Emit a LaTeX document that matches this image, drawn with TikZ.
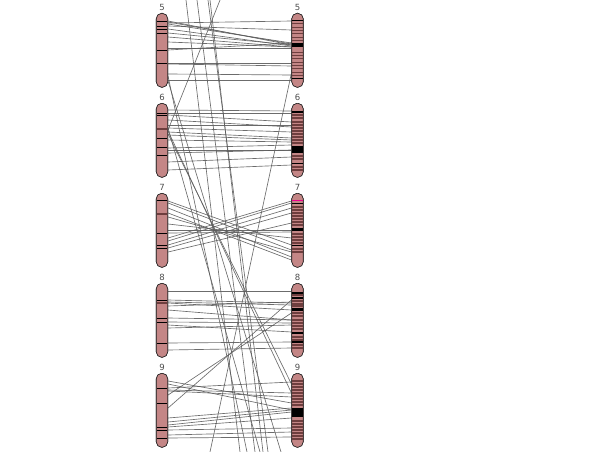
\documentclass[tikz,border=0pt]{standalone}
\usepackage{fontspec}
\setsansfont{DejaVu Sans}
\definecolor{chr}{RGB}{196,134,134}
\definecolor{band}{RGB}{110,62,62}
\definecolor{lnk}{RGB}{92,92,92}
\newcommand\bnd[4]{\fill[#4] (#1-5.4,#2) rectangle (#1+5.4,#2+#3);}
\newcommand\syn[3]{\draw[link] (L#1.east |- 0,#2) -- (R#1.west |- 0,#3);}
\begin{document}
\begin{tikzpicture}[x=1pt,y=-1pt,
  chrom/.style={draw=black!85, line width=0.6pt, fill=chr, rounded corners=5.5pt,
    minimum width=11.5pt, minimum height=74pt, inner sep=0pt, anchor=north},
  lab/.style={font=\sffamily\fontsize{8.5}{8.5}\selectfont, text=black!70},
  link/.style={draw=lnk, line width=0.65pt, opacity=0.9}]
\useasboundingbox (0,0) rectangle (600,452);
% chromosome nodes
\foreach \k/\t in {5/13,6/103,7/193,8/283,9/373}{
  \node[chrom] (L\k) at (162,\t) {};
  \node[chrom] (R\k) at (297.5,\t) {};
  \node[lab] (nl\k) at (162,\t-6) {\k};
  \node[lab] (nr\k) at (297.5,\t-6) {\k};
}
% long connectors (free ends at picture border)
\coordinate (t1) at (186,0);
\coordinate (t2) at (197,0);
\coordinate (t3) at (208,0);
\coordinate (t4) at (210,0);
\coordinate (t5) at (220,0);
\coordinate (b1) at (210,452);
\coordinate (b2) at (240,452);
\coordinate (b3) at (247,452);
\coordinate (b4) at (255,452);
\coordinate (b5) at (260,452);
\coordinate (b6) at (263,452);
\coordinate (b7) at (268,452);
\coordinate (b8) at (281,452);
\draw[link] (t1) -- (b2);
\draw[link] (t2) -- (b4);
\draw[link] (t3) -- (b7);
\draw[link] (t4) -- (b6);
\draw[link] (t5) -- (L6.east |- 0,130);
\draw[link] (L5.east |- 0,76) -- (b3);
\draw[link] (L5.east |- 0,81) -- (b8);
\draw[link] (L6.east |- 0,128) -- (b5);
\draw[link] (L6.east |- 0,131) -- (R9.west |- 0,393);
\draw[link] (L6.east |- 0,134) -- (R9.west |- 0,384);
\draw[link] (R5.west |- 0,73) -- (b1);
\draw[link] (R8.west |- 0,300) -- (L9.east |- 0,408);
\draw[link] (R8.west |- 0,313) -- (L9.east |- 0,395);
% synteny links within pairs
\foreach \a/\b in {21/45,22/44,23/21,24/43,26/30,29/46,33/45,37/47,42/47,48/48,50/43,63/63,64/66,74/75,80/80}{\syn{5}{\a}{\b}}
\foreach \a/\b in {110/111,113/113,115/122,120/127,125/125,128/132,132/138,135/140,140/142,148/145,150/150,153/150,162/157,170/165}{\syn{6}{\a}{\b}}
\foreach \a/\b in {201/245,203/250,208/257,213/260,217/252,238/201,241/203,245/208,248/213,252/223,230/230,233/232,224/238}{\syn{7}{\a}{\b}}
\foreach \a/\b in {291/291,300/303,302/305,303/310,306/302,310/320,318/320,322/323,325/332,328/325,343/342,350/348}{\syn{8}{\a}{\b}}
\foreach \a/\b in {381/403,384/410,388/382,390/393,391/397,418/408,422/410,425/412,427/418,430/428,435/432,438/437}{\syn{9}{\a}{\b}}
% redraw chromosomes over link ends
\foreach \k/\t in {5/13,6/103,7/193,8/283,9/373}{
  \node[chrom] (LL\k) at (162,\t) {};
  \node[chrom] (RR\k) at (297.5,\t) {};
}
% left bands
\foreach \o in {8,13,16,20,37,50}{\bnd{162}{13+\o}{0.7}{black}}
\foreach \o in {10,12,35,44,52}{\bnd{162}{103+\o}{0.7}{black}}
\bnd{162}{128}{2}{band}
\foreach \o in {7,40,52,55}{\bnd{162}{193+\o}{0.7}{black}}
\bnd{162}{213}{1.5}{band}
\foreach \o in {17,35,39,60}{\bnd{162}{283+\o}{0.7}{black}}
\bnd{162}{302}{1.5}{band}
\foreach \o in {15,30,54,57,65}{\bnd{162}{373+\o}{0.7}{black}}
% right bands
\foreach \o in {10,14,17,20,24,27,39,42,45,49,52,55,59,62}{\bnd{297.5}{13+\o}{1.5}{band}}
\foreach \o in {7,65}{\bnd{297.5}{13+\o}{0.8}{black}}
\bnd{297.5}{43}{4.5}{black}
\foreach \o in {11,14,18,21,24,27,30,33,36,39,52,55,63,66}{\bnd{297.5}{103+\o}{1.5}{band}}
\bnd{297.5}{111}{2}{black}
\bnd{297.5}{146}{7}{black}
\bnd{297.5}{163}{1}{black}
\foreach \o in {13,16,19,22,25,28,31,40,43,46,49,55,58}{\bnd{297.5}{193+\o}{1.5}{band}}
\bnd{297.5}{199.5}{1.2}{magenta}
\bnd{297.5}{203}{1.2}{black}
\bnd{297.5}{228}{3}{black}
\bnd{297.5}{245}{1.2}{black}
\foreach \o in {11,17,20,22,29,32,36,39,42,45,53,56,61,64}{\bnd{297.5}{283+\o}{1.5}{band}}
\foreach \o in {9,14,49}{\bnd{297.5}{283+\o}{1.5}{black}}
\bnd{297.5}{308}{3}{black}
\bnd{297.5}{341}{2}{black}
\foreach \o in {7,10,13,16,19,22,25,28,31,47,50,53,56,59,62,65}{\bnd{297.5}{373+\o}{1.5}{band}}
\bnd{297.5}{408}{9}{black}
\end{tikzpicture}
\end{document}
